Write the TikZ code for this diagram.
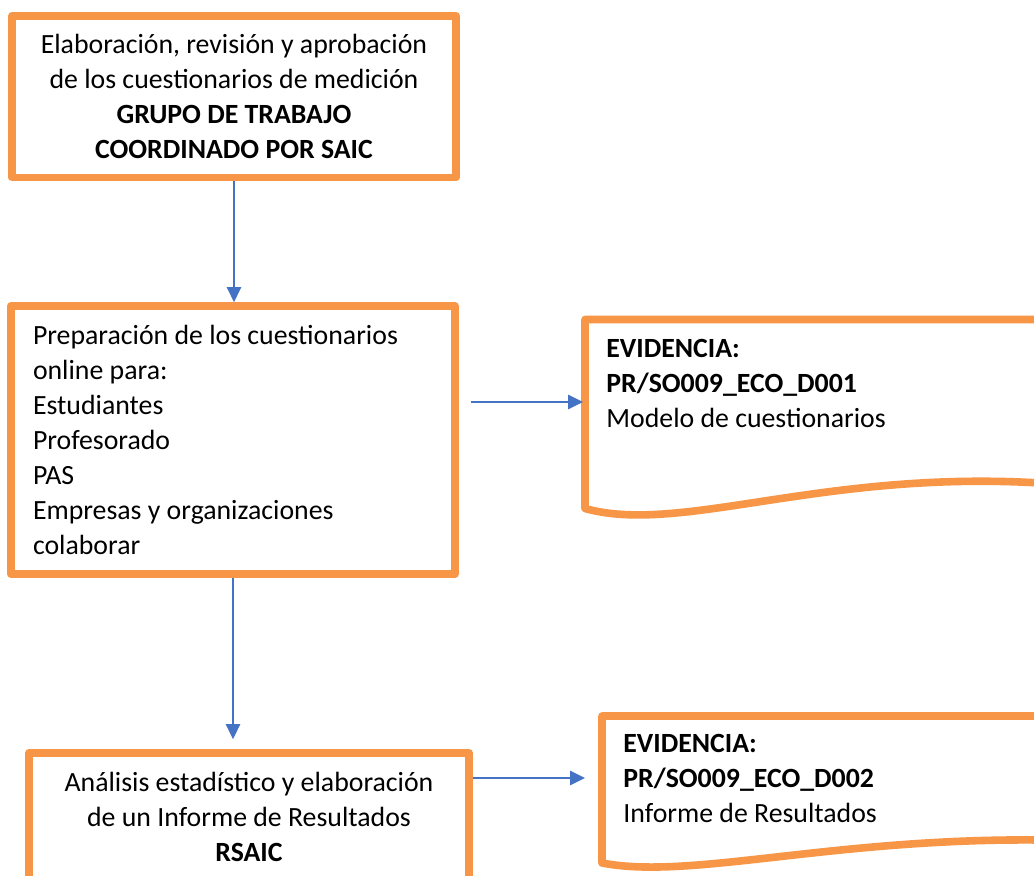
\documentclass[tikz,border=0pt]{standalone}
\usepackage{fontspec}
\setmainfont{Carlito}
\usetikzlibrary{arrows.meta,calc}
\definecolor{naranja}{RGB}{247,150,70}
\definecolor{azul}{RGB}{68,114,196}

\begin{document}
\begin{tikzpicture}[x=0.5pt,y=-0.5pt,
    txt/.style={font=\fontsize{13.9}{17.5}\selectfont, inner sep=0pt},
    caja/.style={txt, draw=naranja, line width=3.8pt, line join=round, fill=white,
      execute at begin node={\spaceskip=\fontdimen2\font\xspaceskip=\fontdimen2\font\relax}},
    docu/.style={draw=naranja, line width=3.8pt, line join=round, fill=white},
    flecha/.style={azul, line width=1.3pt, -{Triangle[length=7.5pt,width=7pt]}}]
    \clip (0,0) rectangle (1034,876);
    \fill[white] (0,0) rectangle (1034,876);
    \node[caja, minimum width=222pt, minimum height=80.75pt, text width=212pt, align=center] (paso1) at (234,96.75)
      {Elaboración, revisión y aprobación\\de los cuestionarios de medición\\\textbf{GRUPO DE TRABAJO}\\\textbf{COORDINADO POR SAIC}};
    \node[caja, minimum width=222pt, minimum height=134pt, text width=200pt, align=left] (paso2) at (233,440)
      {Preparación de los cuestionarios\\online para:\\Estudiantes\\Profesorado\\PAS\\Empresas y organizaciones\\colaborar};
    \node[caja, minimum width=220pt, minimum height=64pt, text width=210pt, align=center] (paso3) at (249,817)
      {Análisis estadístico y elaboración\\de un Informe de Resultados\\\textbf{RSAIC}};
    \draw[docu] (585,508.5) -- (585,319.5) -- (1060,319.5) -- (1060,483)
      .. controls (1050,483) .. (1040,483) .. controls (820,470) and (680,535) .. cycle;
    \draw[docu] (602,863) -- (602,716) -- (1060,716) -- (1060,840)
      .. controls (1050,840) .. (1040,840) .. controls (830,838) and (690,880) .. cycle;
    \node[txt, anchor=north west, align=left] (ev1) at (606,339)
      {\textbf{EVIDENCIA:}\\\textbf{PR/SO009\_ECO\_D001}\\Modelo de cuestionarios};
    \node[txt, anchor=north west, align=left] (ev2) at (623,734)
      {\textbf{EVIDENCIA:}\\\textbf{PR/SO009\_ECO\_D002}\\Informe de Resultados};
    \coordinate (d1) at (583,402);
    \coordinate (d2) at (585,778);
    \draw[flecha] (paso1.south) -- (paso1.south |- paso2.north);
    \draw[flecha, shorten >=5pt] (paso2.south) -- (paso2.south |- paso3.north);
    \draw[flecha, shorten <=6pt] (paso2.east |- d1) -- (d1);
    \draw[flecha] (paso3.east |- d2) -- (d2);
  \end{tikzpicture}
\end{document}
